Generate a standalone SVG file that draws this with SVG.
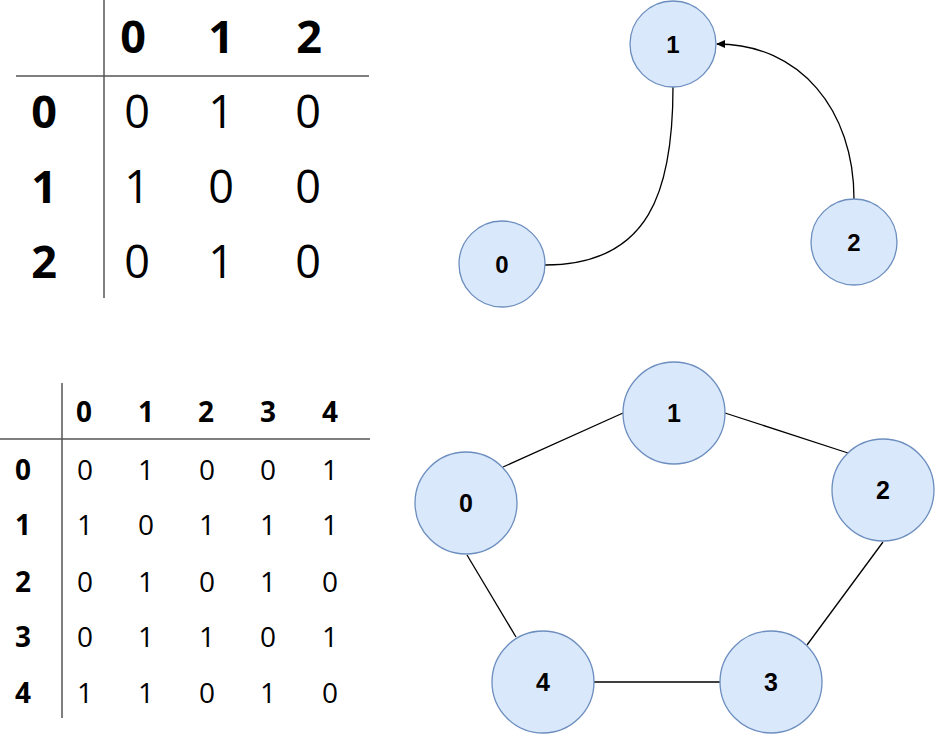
<svg xmlns="http://www.w3.org/2000/svg" width="943" height="734" viewBox="0 0 943 734">
<style>
.t{font-family:"Open Sans","Noto Sans",sans-serif;fill:#000;text-anchor:middle}
.b{font-weight:bold}
.big{font-size:45px}
.sm{font-size:28px}
.rule{stroke:#555;stroke-width:1.5;fill:none}
.node circle{fill:#dae8fc;stroke:#6c8ebf;stroke-width:1.3}
.node text{font-family:"Liberation Sans",Arial,sans-serif;font-weight:bold;font-size:24px;text-anchor:middle;fill:#000}
.n2 text{font-size:25px}
.edge{stroke:#000;stroke-width:1.3;fill:none}
</style>
<defs>
<marker id="arr" markerWidth="10" markerHeight="10" refX="8" refY="4" orient="auto" markerUnits="userSpaceOnUse">
<path d="M0,0 L9,4 L0,8 Z" fill="#000"/>
</marker>
</defs>
<rect width="943" height="734" fill="#fff"/>

<g id="table1">
<line class="rule" x1="104" y1="0" x2="104" y2="298"/>
<line class="rule" x1="16" y1="76" x2="369" y2="76"/>
<g class="t b big">
<text x="133" y="53">0</text><text x="221" y="53">1</text><text x="309" y="53">2</text>
<text x="44" y="128">0</text><text x="44" y="203">1</text><text x="44" y="278">2</text>
</g>
<g class="t big">
<text x="137" y="128">0</text><text x="221" y="128">1</text><text x="308" y="128">0</text>
<text x="137" y="203">1</text><text x="221" y="203">0</text><text x="308" y="203">0</text>
<text x="137" y="278">0</text><text x="221" y="278">1</text><text x="308" y="278">0</text>
</g>
</g>

<g id="table2">
<line class="rule" x1="62" y1="383" x2="62" y2="718"/>
<line class="rule" x1="0" y1="439" x2="370" y2="439"/>
<g class="t b sm">
<text x="84" y="422">0</text><text x="146" y="422">1</text><text x="206" y="422">2</text><text x="268" y="422">3</text><text x="330" y="422">4</text>
<text x="23" y="480">0</text><text x="23" y="535">1</text><text x="23" y="592">2</text><text x="23" y="647">3</text><text x="23" y="703">4</text>
</g>
<g class="t sm">
<text x="85" y="480">0</text><text x="146" y="480">1</text><text x="207" y="480">0</text><text x="268" y="480">0</text><text x="330" y="480">1</text>
<text x="85" y="535">1</text><text x="146" y="535">0</text><text x="207" y="535">1</text><text x="268" y="535">1</text><text x="330" y="535">1</text>
<text x="85" y="592">0</text><text x="146" y="592">1</text><text x="207" y="592">0</text><text x="268" y="592">1</text><text x="330" y="592">0</text>
<text x="85" y="647">0</text><text x="146" y="647">1</text><text x="207" y="647">1</text><text x="268" y="647">0</text><text x="330" y="647">1</text>
<text x="85" y="703">1</text><text x="146" y="703">1</text><text x="207" y="703">0</text><text x="268" y="703">1</text><text x="330" y="703">0</text>
</g>
</g>

<g id="connectors">
<path class="edge" d="M545,265 C650,265 673,190 673,87"/>
<path class="edge" d="M854,199 C854,110 800,44 717,44" marker-end="url(#arr)"/>
<line class="edge" x1="503" y1="467" x2="623" y2="413"/>
<line class="edge" x1="725" y1="413" x2="848" y2="453"/>
<line class="edge" x1="883" y1="542" x2="807" y2="645"/>
<line class="edge" x1="720" y1="682" x2="593" y2="682"/>
<line class="edge" x1="467" y1="555" x2="516" y2="637"/>
</g>

<g id="g1n0" class="node"><circle cx="502" cy="264" r="43"/><text x="502" y="273">0</text></g>
<g id="g1n1" class="node"><circle cx="673" cy="44" r="43"/><text x="673" y="53">1</text></g>
<g id="g1n2" class="node"><circle cx="854" cy="242" r="43"/><text x="854" y="251">2</text></g>

<g id="g2n0" class="node n2"><circle cx="466" cy="503" r="51"/><text x="466" y="512">0</text></g>
<g id="g2n1" class="node n2"><circle cx="674" cy="413" r="51"/><text x="674" y="422">1</text></g>
<g id="g2n2" class="node n2"><circle cx="883" cy="490" r="51"/><text x="883" y="499">2</text></g>
<g id="g2n3" class="node n2"><circle cx="771" cy="682" r="51"/><text x="771" y="691">3</text></g>
<g id="g2n4" class="node n2"><circle cx="543" cy="682" r="51"/><text x="543" y="691">4</text></g>
</svg>
